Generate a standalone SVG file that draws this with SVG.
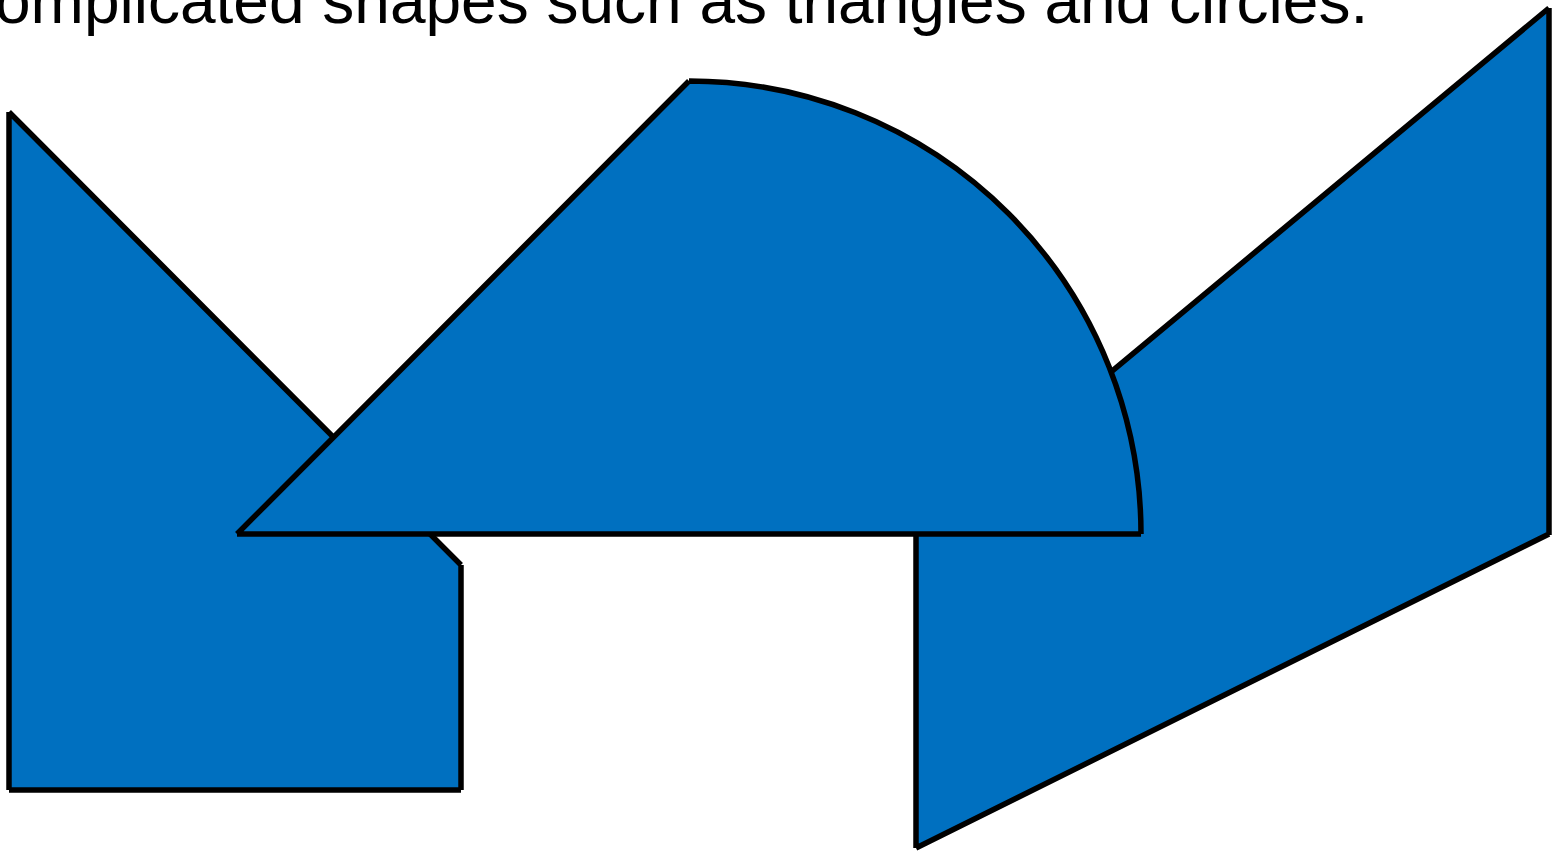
<svg xmlns="http://www.w3.org/2000/svg" width="1553" height="852" viewBox="0 0 1553 852">
  <style>
    .fill { fill: #0070C0; stroke: none; }
    .edge { fill: none; stroke: #000; stroke-width: 5.5; stroke-linecap: butt; stroke-linejoin: miter; }
    .caption { font-family: "Liberation Sans", Arial, sans-serif; font-size: 64px; fill: #000; }
  </style>
  <rect width="1553" height="852" fill="#fff"/>
  <text class="caption" x="-5" y="23">omplicated shapes such as triangles and circles.</text>
  <g id="left-shape">
    <polygon class="fill" points="9,112 461,564 461,790 9,790"/>
    <path class="edge" d="M9,112 L9,790 M9,790 L461,790 M461,790 L461,565 M461,565 L9,112"/>
  </g>
  <g id="right-shape">
    <polygon class="fill" points="916,534 1549,8 1549,534"/>
    <polygon class="fill" points="916,534 1549,534 916,848"/>
    <path class="edge" d="M916,534 L1549,8 M1549,8 L1549,535 M1549,534 L916,848 M916,848 L916,535"/>
  </g>
  <g id="middle-shape">
    <path class="fill" d="M237,534 L689,81 A452,453 0 0 1 1141,534 Z"/>
    <path class="edge" d="M237,534 L689,81 M689,81 A452,453 0 0 1 1141,534 M1141,534 L237,534"/>
  </g>
</svg>
